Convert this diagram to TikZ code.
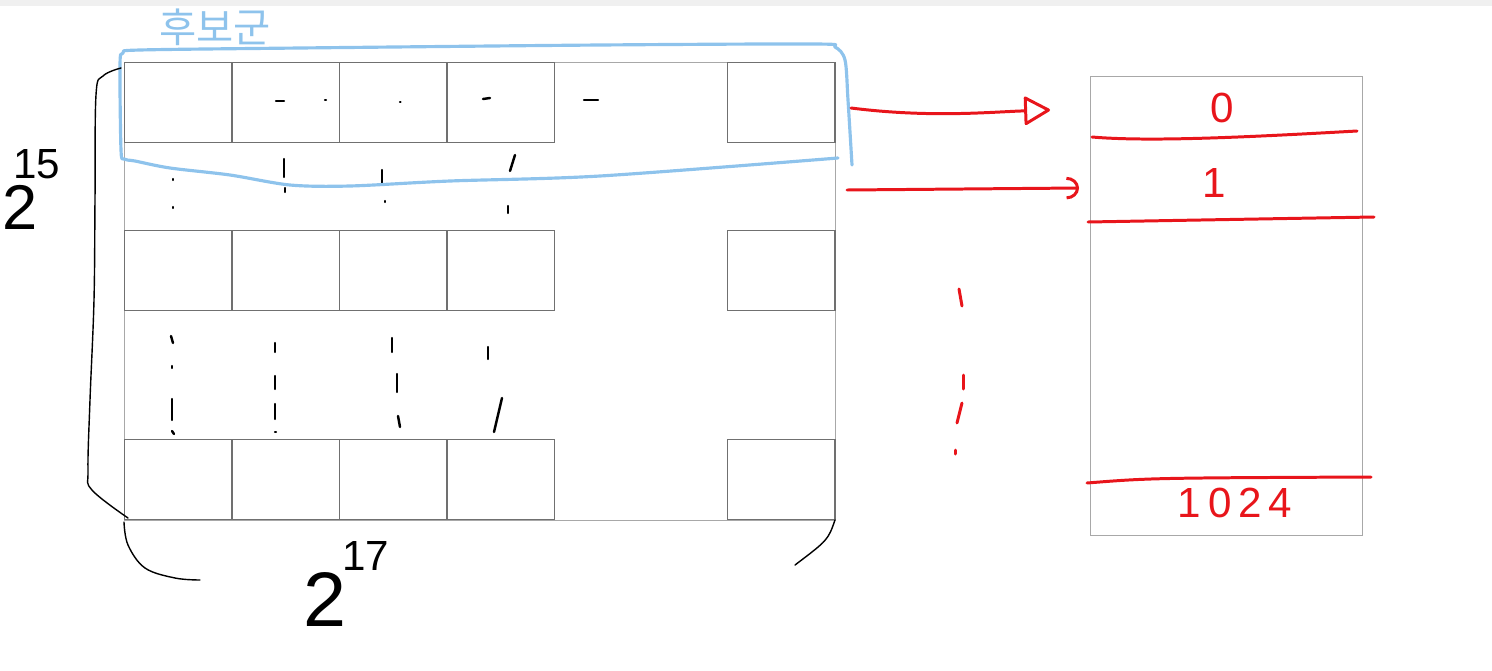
\documentclass[tikz,border=0pt]{standalone}
\usepackage{fontspec}
\setmainfont{Liberation Sans}
\newfontfamily\kofont{Noto Sans CJK KR}
\usetikzlibrary{positioning,arrows.meta}
\definecolor{sketchred}{HTML}{E8151B}
\definecolor{sketchblue}{HTML}{8EC3EC}
\definecolor{framegray}{HTML}{A8A8A8}
\definecolor{cellgray}{HTML}{707070}

\begin{document}
\begin{tikzpicture}[x=0.02cm,y=-0.02cm,
  cell/.style={draw=cellgray,line width=0.6pt,minimum width=2.15cm,minimum height=1.6cm,anchor=north west,inner sep=0pt},
  frame/.style={draw=framegray,line width=0.6pt,anchor=north west,inner sep=0pt},
  tick/.style={line width=1.4pt,line cap=round},
  hand/.style={line width=0.8pt,line cap=round},
  redpen/.style={sketchred,line width=1.7pt,line cap=round},
  bluepen/.style={sketchblue,line width=1.8pt,line cap=round,line join=round},
  slot/.style={text=sketchred,font=\fontsize{24}{28}\selectfont,inner sep=0pt},
  base/.style={font=\fontsize{36}{40}\selectfont,inner sep=0pt},
  expo/.style={font=\fontsize{24}{28}\selectfont,inner sep=0pt}]

\useasboundingbox (0,0) rectangle (1492,670);
\fill[gray!12] (0,0) rectangle (1492,6);

% the big grid
\node[frame,minimum width=14.22cm,minimum height=9.16cm] (grid) at (124,62) {};
\foreach \r/\y in {1/62,3/230,5/439}{
  \foreach \c/\x in {1/124,2/231.5,3/339,4/446.5}
    \node[cell] (c\r\c) at (\x,\y) {};
  \node[cell] (c\r9) at (727,\y) {};
}

% dots between the cells
\foreach \xa/\ya/\xb/\yb in {276/101/284/101, 325/100/326/100, 400/102/400.5/102, 483/99/490/98, 584/100/598/100,
  173/179/173/180, 173/207/173/208, 284/159/284/177, 285/188/285/192, 382/170/382/183, 385/201/385/202,
  515/155/510/171, 508/206/508/213,
  171/336/173/343, 172/366/172/368, 172/399/172/420, 172/431/174/434,
  275/343/275/352, 275/376/275/389, 275/404/275/419, 275/432/276/432,
  392/338/392/352, 397/374/397/392, 398/416/400/427, 488/347/488/359, 502/398/494/432}
  \draw[tick] (\xa,\ya) -- (\xb,\yb);

% candidate group
\draw[bluepen] plot[smooth,tension=0.5] coordinates {(852,165) (848,100) (845,60) (835,47) (815,44)
  (600,45) (300,48) (140,50) (123,53) (120,65) (121,150) (124,159) (135,161) (170,168) (230,175)
  (290,185) (350,186) (450,181) (600,176) (838,158)};
\node[text=sketchblue,font=\kofont\fontsize{23}{27}\selectfont,inner sep=0pt] (cand) at (215,27) {후보군};

% size marks
\draw[hand] plot[smooth,tension=0.6] coordinates {(121,68) (103,76) (96,95) (95,200) (94,300) (90,400) (88,470) (92,490) (128,518)};
\draw[hand] plot[smooth,tension=0.6] coordinates {(124,522) (128,545) (145,568) (175,578) (200,580)};
\draw[hand] (835,520) .. controls (828,540) .. (795,565);
\node[base] (two15) at (20,207) {2};
\node[expo] (pow15) at (37,164) {15};
\node[base,font=\fontsize{44}{48}\selectfont] (two17) at (325,600) {2};
\node[expo] (pow17) at (366,556) {17};

% the table on the right
\node[frame,minimum width=5.44cm,minimum height=9.18cm] (tbl) at (1090,76) {};
\draw[redpen] (1092,137) .. controls (1150,142) and (1250,137) .. (1357,131);
\draw[redpen] (1088,222) .. controls (1200,220) .. (1374,217);
\draw[redpen] (1087,483) .. controls (1150,478) .. (1371,477);
\node[slot] (e0) at (1222,108) {0};
\node[slot] (e1) at (1214,183) {1};
\node[slot] (elast) at (1235,503) {1\,0\,2\,4};

\foreach \xa/\ya/\xb/\yb in {959/289/962/306, 963/375/963/389, 962/403/957/423, 955/450/955/454}
  \draw[redpen] (\xa,\ya) -- (\xb,\yb);

% arrows from rows to slots
\coordinate (a0) at (851,108);
\coordinate (b0) at (1050,110);
\coordinate (a1) at (847,190);
\coordinate (b1) at (1079,188);
\draw[redpen,-{Triangle[open,length=0.55cm,width=0.6cm,round]}] (a0) .. controls (930,118) and (990,112) .. (b0);
\draw[redpen,-{Arc Barb[length=0.25cm,width=0.45cm]}] (a1) -- (b1);
\end{tikzpicture}
\end{document}
